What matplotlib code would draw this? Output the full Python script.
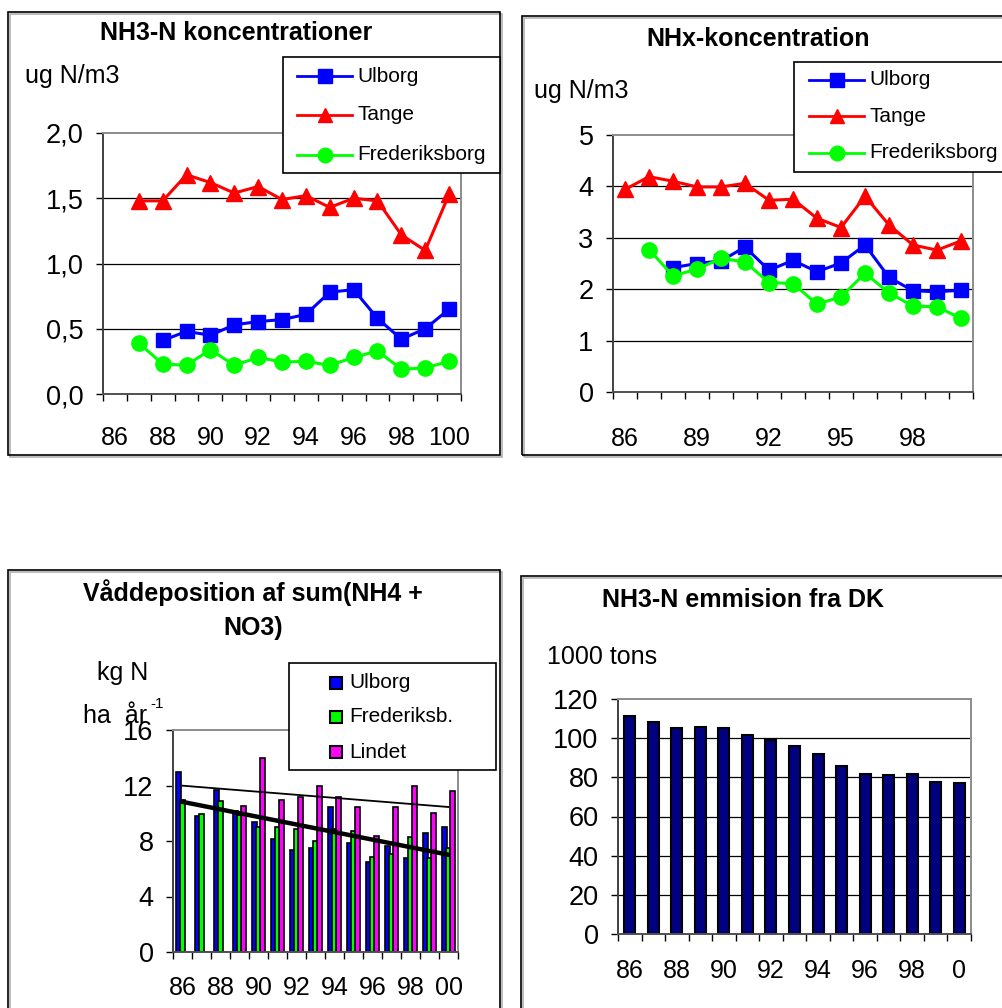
import numpy as np
import matplotlib.pyplot as plt
from matplotlib.patches import Rectangle
from matplotlib.lines import Line2D

plt.rcParams['font.family'] = ['Liberation Sans', 'DejaVu Sans']

W, H = 1002, 1008
nan = np.nan

# --- data, years 1986-2000 ---
years = np.arange(86, 101)

# NH3-N koncentrationer (ug N/m3)
nh3_ulborg = [nan, nan, 0.41, 0.48, 0.45, 0.53, 0.555, 0.57, 0.61, 0.78, 0.80, 0.58, 0.42, 0.50, 0.65]
nh3_tange = [nan, 1.48, 1.48, 1.68, 1.62, 1.54, 1.59, 1.49, 1.52, 1.43, 1.50, 1.48, 1.22, 1.10, 1.53]
nh3_fred = [nan, 0.39, 0.23, 0.22, 0.34, 0.22, 0.28, 0.245, 0.25, 0.22, 0.28, 0.33, 0.19, 0.20, 0.25]

# NHx-koncentration (ug N/m3)
nhx_ulborg = [nan, nan, 2.42, 2.50, 2.55, 2.82, 2.37, 2.56, 2.34, 2.51, 2.86, 2.23, 1.97, 1.95, 1.98]
nhx_tange = [3.94, 4.19, 4.10, 3.99, 3.99, 4.06, 3.73, 3.75, 3.38, 3.20, 3.81, 3.25, 2.86, 2.76, 2.94]
nhx_fred = [nan, 2.77, 2.26, 2.39, 2.60, 2.53, 2.13, 2.11, 1.71, 1.85, 2.31, 1.93, 1.67, 1.66, 1.43]

# Våddeposition (kg N/ha/år)
wet_ulborg = [12.94, 9.81, 11.69, 10.19, 9.40, 8.14, 7.35, 7.47, 10.43, 7.88, 6.50, 7.64, 6.75, 8.55, 8.99]
wet_fred = [10.96, 9.95, 10.90, 9.90, 9.00, 9.00, 8.90, 8.00, 8.84, 8.75, 6.87, 7.06, 8.31, 6.75, 7.47]
wet_lindet = [nan, nan, nan, 10.50, 13.98, 10.96, 11.20, 11.93, 11.20, 10.43, 8.36, 10.48, 12.00, 10.00, 11.61]

# NH3-N emission fra DK (1000 tons)
emission = [111.2, 108.4, 105.4, 105.7, 105.4, 101.8, 99.1, 95.8, 91.9, 85.9, 81.7, 81.0, 81.5, 77.6, 77.2]

lab_every2 = ['86', '88', '90', '92', '94', '96', '98', '100']
lab_every3 = ['86', '89', '92', '95', '98']
lab_wet = ['86', '88', '90', '92', '94', '96', '98', '00']
lab_emis = ['86', '88', '90', '92', '94', '96', '98', '0']

BLUE, RED, GREEN, MAG, NAVY = '#0000ff', '#ff0000', '#00ff00', '#ff00ff', '#000080'

fig = plt.figure(figsize=(W / 100, H / 100), dpi=100)


def fx(x):
    return x / W


def fy(y):
    return 1 - y / H


def rect(x0, y0, x1, y1):
    return [fx(x0), fy(y1), (x1 - x0) / W, (y1 - y0) / H]


def frame(x0, y0, x1, y1, shadow=True, lw=1.2):
    if shadow:
        fig.add_artist(Rectangle((fx(x0 + 2), fy(y1 + 2)), (x1 - x0) / W, (y1 - y0) / H,
                                 transform=fig.transFigure, fill=False, ec='#b0b0b0', lw=lw))
    fig.add_artist(Rectangle((fx(x0), fy(y1)), (x1 - x0) / W, (y1 - y0) / H,
                             transform=fig.transFigure, fc='white', ec='black', lw=lw,
                             zorder=5 if not shadow else 1, fill=not shadow))


def setup(ax, yticks, ylabels, lab_idx, lab_txt, xpad, grid=True):
    n = len(years)
    ax.set_xlim(-0.5, n - 0.5)
    ax.set_ylim(yticks[0], yticks[-1])
    ax.set_xticks(np.arange(n + 1) - 0.5)
    ax.set_xticklabels([])
    ax.set_xticks(lab_idx, minor=True)
    ax.set_xticklabels(lab_txt, minor=True)
    ax.tick_params(axis='x', which='major', direction='out', length=5, width=1, color='black')
    ax.tick_params(axis='x', which='minor', length=0, pad=xpad, labelsize=18)
    ax.set_yticks(yticks)
    ax.set_yticklabels(ylabels)
    ax.tick_params(axis='y', direction='out', length=5, width=1, pad=9, labelsize=19.5)
    if grid:
        for v in yticks[1:-1]:
            ax.axhline(v, color='black', lw=0.9, zorder=1)
    ax.spines['left'].set_color('#404040')
    ax.spines['bottom'].set_color('#505050')
    for s in ('top', 'right'):
        ax.spines[s].set_color('#8c8c8c')
    for s in ax.spines.values():
        s.set_linewidth(1.4)


STYLES = [('Ulborg', BLUE, 's', 9.5), ('Tange', RED, '^', 10.5), ('Frederiksborg', GREEN, 'o', 10.5)]


def line_legend(x0, y0, x1, y1, hx0, hx1, rows):
    frame(x0, y0, x1, y1, shadow=False)
    for (name, c, m, ms), y in zip(STYLES, rows):
        fig.add_artist(Line2D([fx(hx0), fx(hx1)], [fy(y), fy(y)], color=c, lw=2,
                              transform=fig.transFigure, zorder=6))
        fig.add_artist(Line2D([fx((hx0 + hx1) / 2)], [fy(y)], color=c, marker=m, ms=ms,
                              transform=fig.transFigure, zorder=6))
        fig.text(fx(hx1 + 5), fy(y), name, ha='left', va='center', fontsize=15, zorder=7)


def plot_lines(ax, ul, ta, fr):
    x = np.arange(len(years))
    ax.plot(x, ul, color=BLUE, lw=2.2, marker='s', ms=10.5, zorder=3, clip_on=False)
    ax.plot(x, ta, color=RED, lw=2.2, marker='^', ms=11, zorder=3, clip_on=False)
    ax.plot(x, fr, color=GREEN, lw=2.2, marker='o', ms=11, zorder=3, clip_on=False)


# --- NH3-N koncentrationer ---
frame(8, 12, 500, 455)
ax1 = fig.add_axes(rect(103, 133, 461, 394))
plot_lines(ax1, nh3_ulborg, nh3_tange, nh3_fred)
setup(ax1, [0, 0.5, 1.0, 1.5, 2.0], ['0,0', '0,5', '1,0', '1,5', '2,0'],
      np.arange(0, 15, 2), lab_every2, xpad=23)
fig.text(fx(236), fy(33), 'NH3-N koncentrationer', ha='center', va='center',
         fontsize=18, fontweight='bold')
fig.text(fx(25), fy(76), 'ug N/m3', ha='left', va='center', fontsize=18)
line_legend(283, 57, 500, 173, 297, 352, [76, 115, 155])

# --- NHx-koncentration ---
frame(522, 16, 1010, 455)
ax2 = fig.add_axes(rect(613, 135, 973, 392))
plot_lines(ax2, nhx_ulborg, nhx_tange, nhx_fred)
setup(ax2, [0, 1, 2, 3, 4, 5], ['0', '1', '2', '3', '4', '5'],
      np.arange(0, 15, 3), lab_every3, xpad=25)
fig.text(fx(758), fy(39), 'NHx-koncentration', ha='center', va='center',
         fontsize=18, fontweight='bold')
fig.text(fx(534), fy(91), 'ug N/m3', ha='left', va='center', fontsize=18)
line_legend(794, 62, 1010, 172, 809, 864, [80, 116, 153])

# --- Våddeposition af sum(NH4 + NO3) ---
frame(8, 570, 500, 1015)
ax3 = fig.add_axes(rect(173, 730, 458, 952))
x = np.arange(len(years))
bw, off = 0.29, 0.21
ax3.bar(x - off, wet_ulborg, bw, color=BLUE, ec='black', lw=1.2, zorder=2)
ax3.bar(x, wet_fred, bw, color=GREEN, ec='black', lw=1.2, zorder=2)
ax3.bar(x + off, np.nan_to_num(wet_lindet), bw, color=MAG, ec='black', lw=1.2, zorder=2)
# linear trend lines over the full period
for series, lw in ((wet_lindet, 1.3), (wet_ulborg, 3.2)):
    s = np.asarray(series)
    ok = ~np.isnan(s)
    k, m = np.polyfit(x[ok], s[ok], 1)
    ax3.plot([x[0], x[-1]], [m + k * x[0], m + k * x[-1]], color='black', lw=lw, zorder=4)
setup(ax3, [0, 4, 8, 12, 16], ['0', '4', '8', '12', '16'],
      np.arange(0, 15, 2), lab_wet, xpad=17, grid=False)
fig.text(fx(253), fy(593), 'Våddeposition af sum(NH4 +', ha='center', va='center',
         fontsize=18, fontweight='bold')
fig.text(fx(253), fy(628), 'NO3)', ha='center', va='center', fontsize=18, fontweight='bold')
fig.text(fx(97), fy(673), 'kg N', ha='left', va='center', fontsize=18)
fig.text(fx(83), fy(716), 'ha  år', ha='left', va='center', fontsize=18)
fig.text(fx(150), fy(704), '-1', ha='left', va='center', fontsize=11)
frame(289, 663, 496, 770, shadow=False)
for (name, c), y in zip((('Ulborg', BLUE), ('Frederiksb.', GREEN), ('Lindet', MAG)),
                        (683, 717, 752)):
    fig.add_artist(Rectangle((fx(330), fy(y + 6)), 12 / W, 12 / H, transform=fig.transFigure,
                             fc=c, ec='black', lw=1.5, zorder=6))
    fig.text(fx(349), fy(y), name, ha='left', va='center', fontsize=15, zorder=7)

# --- NH3-N emmision fra DK ---
frame(521, 576, 1010, 1015)
ax4 = fig.add_axes(rect(618, 699, 971, 934))
ax4.bar(x, emission, 0.47, color=NAVY, ec='black', lw=1.5, zorder=2)
setup(ax4, [0, 20, 40, 60, 80, 100, 120], ['0', '20', '40', '60', '80', '100', '120'],
      np.arange(0, 15, 2), lab_emis, xpad=18)
fig.text(fx(743), fy(600), 'NH3-N emmision fra DK', ha='center', va='center',
         fontsize=18, fontweight='bold')
fig.text(fx(547), fy(657), '1000 tons', ha='left', va='center', fontsize=18)

fig.savefig('out.png', dpi=100)
